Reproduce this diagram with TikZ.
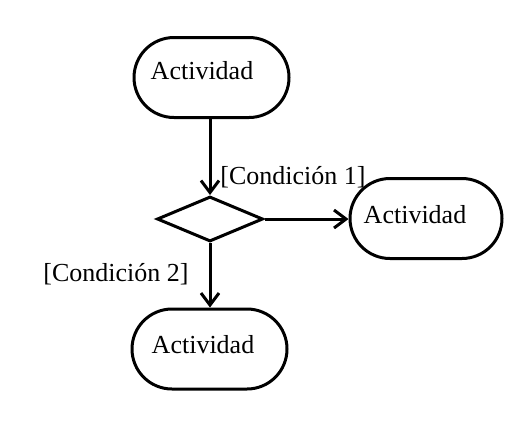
\documentclass[tikz,border=0pt]{standalone}
\usepackage{fontspec}
\setmainfont{Liberation Serif}
\usetikzlibrary{shapes.geometric,arrows.meta}
\begin{document}
\begin{tikzpicture}[x=1pt,y=-1pt,
  actbox/.style={draw, line width=3pt, rounded corners=40pt, minimum width=#1, minimum height=80pt, inner sep=0pt},
  acttext/.style={font=\fontsize{26}{28}\selectfont},
  decision/.style={draw, line width=3pt, diamond, minimum width=106pt, minimum height=45pt, inner sep=0pt},
  flow/.style={line width=3pt, -{Straight Barb[length=12pt,width=18pt,line width=3pt]}},
  cond/.style={font=\fontsize{26}{28}\selectfont, inner sep=0pt}]
\useasboundingbox (0,0) rectangle (529,426);
\node[actbox=155pt] (a1) at (211.5,77.5) {};
\node[acttext] (t1) at (202,71) {Actividad};
\node[decision] (d) at (210,219) {};
\node[actbox=152pt] (a2) at (426,218.5) {};
\node[acttext] (t2) at (415,215) {Actividad};
\node[actbox=155pt] (a3) at (209.5,349) {};
\node[acttext] (t3) at (203,345) {Actividad};
\draw[flow] (a1.south -| d.north) -- (d.north);
\draw[flow] (d.east) -- (d.east -| a2.west);
\draw[flow] (d.south) -- (d.south |- a3.north);
\node[cond] (c1) at (293,177) {[Condición 1]};
\node[cond] (c2) at (116,274) {[Condición 2]};
\end{tikzpicture}
\end{document}
